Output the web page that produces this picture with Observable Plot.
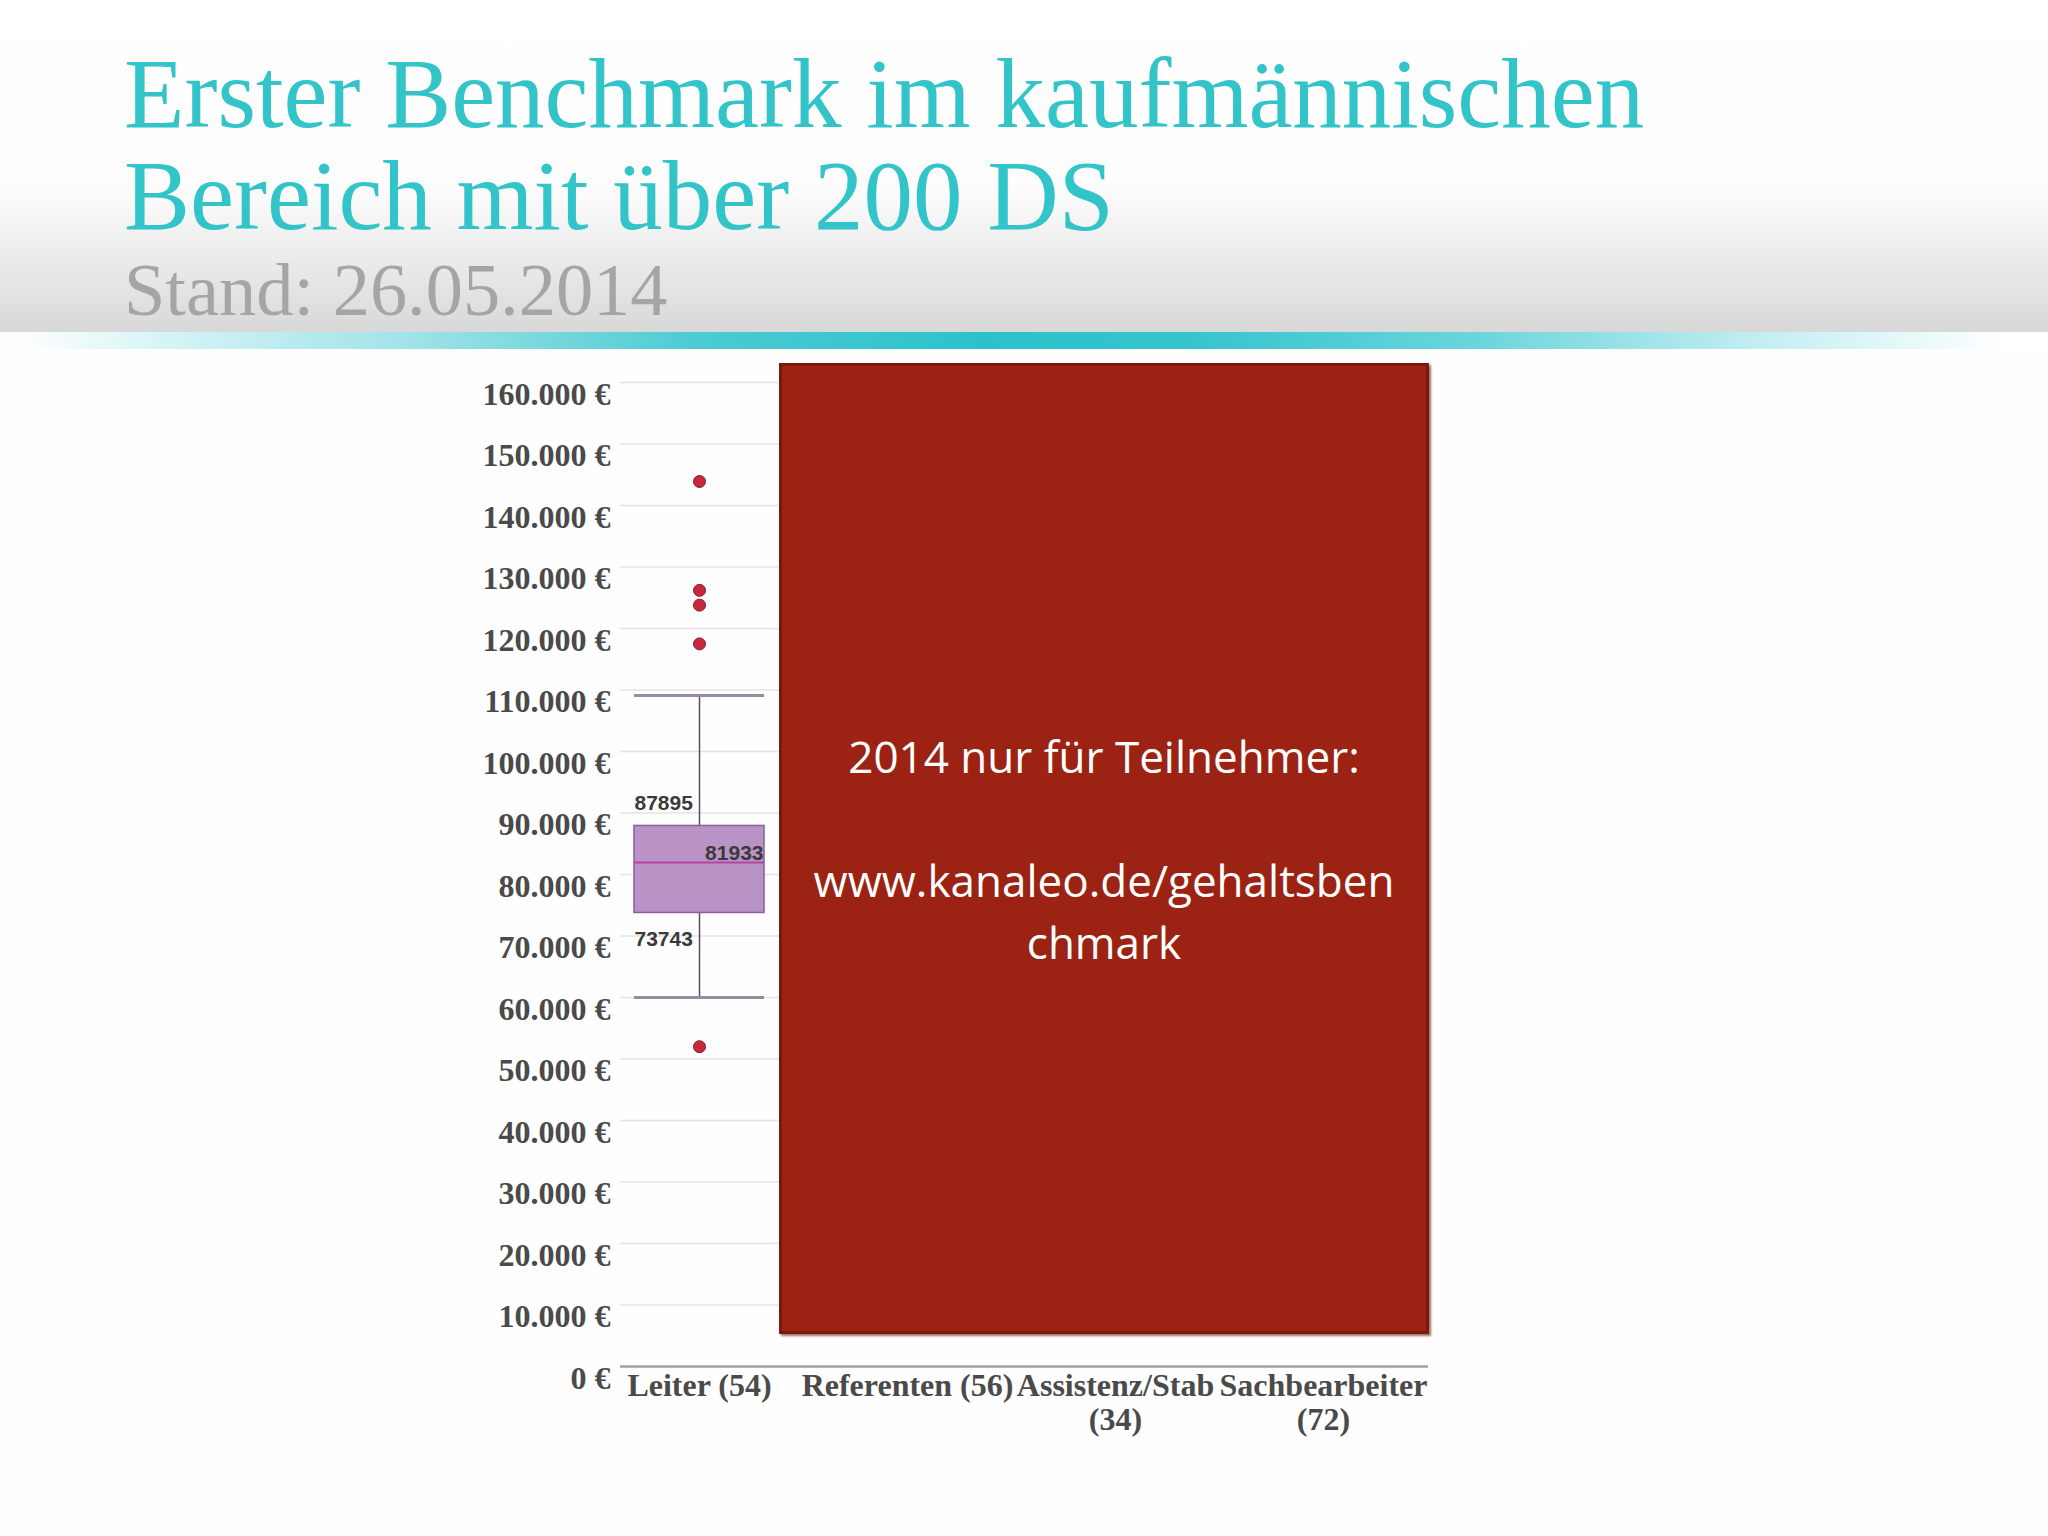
<!DOCTYPE html>
<html>
<head>
<meta charset="utf-8">
<script src="https://cdn.jsdelivr.net/npm/d3@7"></script>
<script src="https://cdn.jsdelivr.net/npm/@observablehq/plot@0.6"></script>
<style>
  html, body { margin: 0; padding: 0; }
  body { width: 2048px; height: 1536px; background: #fefefe; position: relative; overflow: hidden; }
  #header { position: absolute; left: 0; top: 0; width: 2048px; height: 332px;
    background: linear-gradient(to bottom, #ffffff 0px, #fcfcfc 190px, #e6e6e6 280px, #d8d8d8 332px); }
  #band { position: absolute; left: 0; top: 332px; width: 2048px; height: 17px;
    background: linear-gradient(to right, rgba(255,255,255,0) 1%, #d6f4f5 8%, #9fe3e8 20%, #4ccbd2 34%, #2cc2cb 48%, #35c4cd 58%, #6ad5dc 72%, #c3eef1 86%, #ffffff 98%); }
  #title { position: absolute; left: 124px; top: 43px; font-family: "Liberation Serif", serif;
    font-size: 99px; line-height: 102px; color: #33c4c9; white-space: nowrap; }
  #subtitle { position: absolute; left: 124px; top: 253px; font-family: "Liberation Serif", serif;
    font-size: 74.4px; line-height: 74.4px; color: #a5a5a5; white-space: nowrap; }
  #chart { position: absolute; left: 0; top: 340px; }
  #overlay { position: absolute; left: 779px; top: 363px; width: 650px; height: 971px; box-sizing: border-box;
    background: #9c2314; border: 3px solid #7a1a0d; box-shadow: 2px 2px 2px rgba(90,20,10,0.6);
    display: flex; align-items: center; justify-content: center; text-align: center;
    font-family: "Open Sans", sans-serif; font-size: 44px; line-height: 62px; color: #ffffff; z-index: 5; }
</style>
</head>
<body>
<div id="header"></div>
<div id="band"></div>
<div id="title"></div>
<div id="subtitle"></div>
<div id="chart"></div>
<div id="overlay"></div>
<script>
// ---- data ----
const titleLines = ["Erster Benchmark im kaufmännischen", "Bereich mit über 200 DS"];
const subtitle = "Stand: 26.05.2014";
const categories = ["Leiter (54)", "Referenten (56)", "Assistenz/Stab (34)", "Sachbearbeiter (72)"];
const boxCategories = ["Leiter (54)"];
const lowWhisker = [60000];
const q1 = [73743];
const median = [81933];
const q3 = [87895];
const highWhisker = [109100];
const outlierCategory = "Leiter (54)";
const outliers = [143900, 126200, 123800, 117500, 52000];
const yTicks = [0, 10000, 20000, 30000, 40000, 50000, 60000, 70000, 80000, 90000, 100000, 110000, 120000, 130000, 140000, 150000, 160000];
const overlayLines = ["2014 nur für Teilnehmer:", "", "www.kanaleo.de/gehaltsben", "chmark"];

document.getElementById("title").innerHTML = titleLines.join("<br>");
document.getElementById("subtitle").textContent = subtitle;
document.getElementById("overlay").innerHTML = "<div>" + overlayLines.map(l => l === "" ? "&nbsp;" : l).join("<br>") + "</div>";

const boxes = boxCategories.map((c, i) => ({
  cat: c, low: lowWhisker[i], q1: q1[i], med: median[i], q3: q3[i], high: highWhisker[i]
}));
const outlierData = outliers.map(v => ({cat: outlierCategory, v}));

const euro = d => d3.format(",")(d).replace(/,/g, ".") + " €";
const wrap = d => d.length > 16 ? d.replace(" (", "\n(") : d;

const chart = Plot.plot({
  width: 2048,
  height: 1140,
  marginTop: 42,
  marginBottom: 114,
  marginLeft: 594,
  marginRight: 620,
  style: {background: "transparent", fontFamily: "Liberation Serif, serif"},
  x: {domain: categories, padding: 0, label: null},
  y: {domain: [0, 160000], label: null},
  marks: [
    Plot.ruleY(yTicks.filter(d => d > 0), {stroke: "#e4e4e4", strokeWidth: 1.5, insetLeft: 26}),
    Plot.ruleY([0], {stroke: "#a2a2a2", strokeWidth: 2.5, insetLeft: 26}),
    Plot.axisY({ticks: yTicks, tickFormat: euro, tickSize: 0, tickPadding: 0, dx: 16, dy: 12,
      fontSize: 32, fontWeight: "bold", color: "#4a4a4a", label: null}),
    Plot.axisX({tickFormat: wrap, tickSize: 0, tickPadding: 5, fontSize: 32, fontWeight: "bold",
      color: "#4a4a4a", lineHeight: 1.07, label: null}),
    Plot.ruleX(boxes, {x: "cat", y1: "low", y2: "high", stroke: "#5e4a63", strokeWidth: 1.5}),
    Plot.tickY(boxes, {x: "cat", y: "low", stroke: "#9a8ca0", strokeWidth: 3, insetLeft: 39, insetRight: 39}),
    Plot.tickY(boxes, {x: "cat", y: "high", stroke: "#9a8ca0", strokeWidth: 3, insetLeft: 39, insetRight: 39}),
    Plot.barY(boxes, {x: "cat", y1: "q1", y2: "q3", fill: "#b993c6", stroke: "#8a5e9a", strokeWidth: 1.5,
      insetLeft: 39, insetRight: 39}),
    Plot.tickY(boxes, {x: "cat", y: "med", stroke: "#b4459e", strokeWidth: 2, insetLeft: 39, insetRight: 39}),
    Plot.dot(outlierData, {x: "cat", y: "v", r: 6, fill: "#c42a3c", stroke: "#8a1a25", strokeWidth: 1}),
    Plot.text(boxes, {x: "cat", y: "q3", text: d => String(d.q3), textAnchor: "start", dx: -65, dy: -23,
      fontFamily: "Liberation Sans, sans-serif", fontWeight: "bold", fontSize: 21, fill: "#3a3a3a"}),
    Plot.text(boxes, {x: "cat", y: "med", text: d => String(d.med), textAnchor: "end", dx: 64, dy: -9,
      fontFamily: "Liberation Sans, sans-serif", fontWeight: "bold", fontSize: 21, fill: "#3a3a3a"}),
    Plot.text(boxes, {x: "cat", y: "q1", text: d => String(d.q1), textAnchor: "start", dx: -65, dy: 26,
      fontFamily: "Liberation Sans, sans-serif", fontWeight: "bold", fontSize: 21, fill: "#3a3a3a"})
  ]
});
document.getElementById("chart").appendChild(chart);
</script>
</body>
</html>
